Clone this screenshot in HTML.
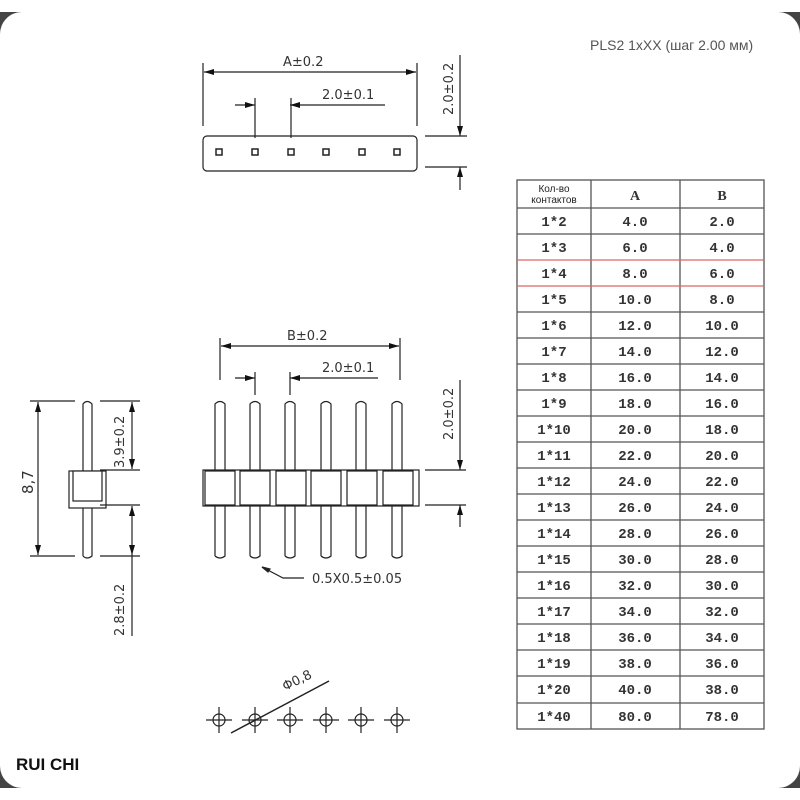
<!DOCTYPE html>
<html><head><meta charset="utf-8"><style>
html,body{margin:0;padding:0;background:#fff;width:800px;height:800px;overflow:hidden;font-family:"Liberation Sans",sans-serif}
</style></head><body>
<svg width="800" height="800" viewBox="0 0 800 800" xmlns="http://www.w3.org/2000/svg">
<defs>
<marker id="a" viewBox="0 0 10 6" refX="10" refY="3" markerWidth="10" markerHeight="6" orient="auto-start-reverse" markerUnits="userSpaceOnUse"><path d="M0,0L10,3L0,6z" fill="#111"/></marker>
</defs>
<rect x="0" y="12" width="800" height="776" fill="#444"/>
<rect x="0" y="12" width="800" height="776" rx="22" fill="#fff"/>
<text x="590" y="50" font-size="14" fill="#555" font-family="Liberation Sans, DejaVu Sans, sans-serif">PLS2 1xXX (шаг 2.00 мм)</text>
<text x="16" y="770" font-size="17" font-weight="bold" fill="#111">RUI CHI</text>

<g stroke="#222" stroke-width="1.2" fill="none">
<!-- top view -->
<rect x="203" y="136" width="214" height="35" rx="4"/>
<line x1="203" y1="63" x2="203" y2="126"/><line x1="417" y1="63" x2="417" y2="126"/>
<line x1="204" y1="72" x2="416" y2="72" marker-start="url(#a)" marker-end="url(#a)"/>
<line x1="235" y1="105" x2="255" y2="105" marker-end="url(#a)"/>
<line x1="290" y1="105" x2="385" y2="105" marker-start="url(#a)"/>
<line x1="255" y1="98" x2="255" y2="138"/><line x1="291" y1="98" x2="291" y2="138"/>
<line x1="460" y1="55" x2="460" y2="136" marker-end="url(#a)"/>
<line x1="460" y1="167" x2="460" y2="190" marker-start="url(#a)"/>
<line x1="425" y1="136" x2="467" y2="136"/><line x1="425" y1="167" x2="467" y2="167"/>
<g stroke-width="1.5">
<rect x="216" y="149" width="6" height="6"/><rect x="252" y="149" width="6" height="6"/><rect x="288" y="149" width="6" height="6"/><rect x="323" y="149" width="6" height="6"/><rect x="359" y="149" width="6" height="6"/><rect x="394" y="149" width="6" height="6"/>
</g>

<!-- side view -->
<path d="M83,556 V404 Q87,399 92,404 V556 Q87,560 83,556"/>
<rect x="69" y="471" width="37" height="37" fill="#fff"/>
<rect x="73" y="471" width="29" height="30" fill="#fff"/>
<line x1="30" y1="401" x2="75" y2="401"/><line x1="30" y1="556" x2="75" y2="556"/>
<line x1="38" y1="402" x2="38" y2="555" marker-start="url(#a)" marker-end="url(#a)"/>
<line x1="100" y1="401" x2="140" y2="401"/><line x1="100" y1="470" x2="140" y2="470"/>
<line x1="100" y1="505" x2="140" y2="505"/><line x1="100" y1="556" x2="140" y2="556"/>
<line x1="132" y1="402" x2="132" y2="469" marker-start="url(#a)" marker-end="url(#a)"/>
<line x1="132" y1="506" x2="132" y2="555" marker-start="url(#a)" marker-end="url(#a)"/>
<line x1="132" y1="555" x2="132" y2="636"/>

<!-- front view -->
<line x1="220" y1="338" x2="220" y2="380"/><line x1="400" y1="338" x2="400" y2="380"/>
<line x1="221" y1="346" x2="399" y2="346" marker-start="url(#a)" marker-end="url(#a)"/>
<line x1="235" y1="378" x2="255" y2="378" marker-end="url(#a)"/>
<line x1="290" y1="378" x2="378" y2="378" marker-start="url(#a)"/>
<line x1="255" y1="372" x2="255" y2="395"/><line x1="290" y1="372" x2="290" y2="395"/>
<line x1="460" y1="380" x2="460" y2="470" marker-end="url(#a)"/>
<line x1="460" y1="505" x2="460" y2="527" marker-start="url(#a)"/>
<line x1="425" y1="470" x2="466" y2="470"/><line x1="425" y1="505" x2="466" y2="505"/>
<g id="pins">
<path d="M215,556 V404 Q220,399 225,404 V556 Q220,560 215,556"/>
<path d="M250,556 V404 Q255,399 260,404 V556 Q255,560 250,556"/>
<path d="M285,556 V404 Q290,399 295,404 V556 Q290,560 285,556"/>
<path d="M321,556 V404 Q326,399 331,404 V556 Q326,560 321,556"/>
<path d="M356,556 V404 Q361,399 366,404 V556 Q361,560 356,556"/>
<path d="M392,556 V404 Q397,399 402,404 V556 Q397,560 392,556"/>
</g>
<g fill="#fff">
<rect x="203" y="470" width="216" height="36"/>
<rect x="205" y="471" width="30" height="34"/><rect x="240" y="471" width="30" height="34"/><rect x="276" y="471" width="30" height="34"/><rect x="311" y="471" width="30" height="34"/><rect x="347" y="471" width="30" height="34"/><rect x="383" y="471" width="30" height="34"/>
</g>
<polyline points="262,567 283,578 304,578"/>
<path d="M262,567l8,2l-2,3z" fill="#222"/>

<!-- bottom view -->
<g>
<circle cx="219" cy="720" r="6"/><line x1="206" y1="720" x2="232" y2="720"/><line x1="219" y1="707" x2="219" y2="733"/>
<circle cx="255" cy="720" r="6"/><line x1="242" y1="720" x2="268" y2="720"/><line x1="255" y1="707" x2="255" y2="733"/>
<circle cx="290" cy="720" r="6"/><line x1="277" y1="720" x2="303" y2="720"/><line x1="290" y1="707" x2="290" y2="733"/>
<circle cx="326" cy="720" r="6"/><line x1="313" y1="720" x2="339" y2="720"/><line x1="326" y1="707" x2="326" y2="733"/>
<circle cx="361" cy="720" r="6"/><line x1="348" y1="720" x2="374" y2="720"/><line x1="361" y1="707" x2="361" y2="733"/>
<circle cx="397" cy="720" r="6"/><line x1="384" y1="720" x2="410" y2="720"/><line x1="397" y1="707" x2="397" y2="733"/>
<line x1="231" y1="733" x2="329" y2="681" stroke-width="1.5"/>
</g>
</g>

<g font-size="13" fill="#333" font-family="DejaVu Sans, Liberation Sans, sans-serif">
<text x="283" y="66">A±0.2</text>
<text x="322" y="99">2.0±0.1</text>
<text transform="translate(453,115) rotate(-90)">2.0±0.2</text>
<text x="287" y="340">B±0.2</text>
<text x="322" y="372">2.0±0.1</text>
<text transform="translate(453,440) rotate(-90)">2.0±0.2</text>
<text transform="translate(124,468) rotate(-90)">3.9±0.2</text>
<text transform="translate(124,636) rotate(-90)">2.8±0.2</text>
<text transform="translate(33,494) rotate(-90)" font-size="15">8,7</text>
<text x="312" y="583">0.5X0.5±0.05</text>
<text transform="translate(285,691) rotate(-26)">Φ0,8</text>
</g>

<!-- table -->
<g stroke="#555" stroke-width="1.3">
<rect x="517" y="180" width="247" height="549" fill="none"/>
<line x1="591" y1="180" x2="591" y2="729"/><line x1="680" y1="180" x2="680" y2="729"/>
<line x1="517" y1="208" x2="764" y2="208"/><line x1="517" y1="234" x2="764" y2="234"/>
<line x1="517" y1="312" x2="764" y2="312"/><line x1="517" y1="338" x2="764" y2="338"/><line x1="517" y1="364" x2="764" y2="364"/><line x1="517" y1="390" x2="764" y2="390"/><line x1="517" y1="416" x2="764" y2="416"/><line x1="517" y1="442" x2="764" y2="442"/><line x1="517" y1="468" x2="764" y2="468"/><line x1="517" y1="494" x2="764" y2="494"/><line x1="517" y1="520" x2="764" y2="520"/><line x1="517" y1="546" x2="764" y2="546"/><line x1="517" y1="572" x2="764" y2="572"/><line x1="517" y1="598" x2="764" y2="598"/><line x1="517" y1="624" x2="764" y2="624"/><line x1="517" y1="650" x2="764" y2="650"/><line x1="517" y1="676" x2="764" y2="676"/><line x1="517" y1="703" x2="764" y2="703"/>
</g>
<line x1="517" y1="260" x2="764" y2="260" stroke="#d66" stroke-width="1.3"/>
<line x1="517" y1="286" x2="764" y2="286" stroke="#d66" stroke-width="1.3"/>
<text x="554" y="192" font-size="10" text-anchor="middle" fill="#222" font-family="Liberation Sans, DejaVu Sans, sans-serif">Кол-во</text>
<text x="554" y="203" font-size="10" text-anchor="middle" fill="#222" font-family="Liberation Sans, DejaVu Sans, sans-serif">контактов</text>
<g font-size="14" font-weight="bold" fill="#333" text-anchor="middle" font-family="Liberation Serif, DejaVu Serif, serif">
<text x="635" y="200">A</text><text x="722" y="200">B</text>
</g>
<g font-size="14" font-weight="bold" fill="#333" text-anchor="middle" font-family="Liberation Mono, DejaVu Sans Mono, monospace">
<text x="554" y="226">1*2</text><text x="635" y="226">4.0</text><text x="722" y="226">2.0</text>
<text x="554" y="252">1*3</text><text x="635" y="252">6.0</text><text x="722" y="252">4.0</text>
<text x="554" y="278">1*4</text><text x="635" y="278">8.0</text><text x="722" y="278">6.0</text>
<text x="554" y="304">1*5</text><text x="635" y="304">10.0</text><text x="722" y="304">8.0</text>
<text x="554" y="330">1*6</text><text x="635" y="330">12.0</text><text x="722" y="330">10.0</text>
<text x="554" y="356">1*7</text><text x="635" y="356">14.0</text><text x="722" y="356">12.0</text>
<text x="554" y="382">1*8</text><text x="635" y="382">16.0</text><text x="722" y="382">14.0</text>
<text x="554" y="408">1*9</text><text x="635" y="408">18.0</text><text x="722" y="408">16.0</text>
<text x="554" y="434">1*10</text><text x="635" y="434">20.0</text><text x="722" y="434">18.0</text>
<text x="554" y="460">1*11</text><text x="635" y="460">22.0</text><text x="722" y="460">20.0</text>
<text x="554" y="486">1*12</text><text x="635" y="486">24.0</text><text x="722" y="486">22.0</text>
<text x="554" y="512">1*13</text><text x="635" y="512">26.0</text><text x="722" y="512">24.0</text>
<text x="554" y="538">1*14</text><text x="635" y="538">28.0</text><text x="722" y="538">26.0</text>
<text x="554" y="564">1*15</text><text x="635" y="564">30.0</text><text x="722" y="564">28.0</text>
<text x="554" y="590">1*16</text><text x="635" y="590">32.0</text><text x="722" y="590">30.0</text>
<text x="554" y="616">1*17</text><text x="635" y="616">34.0</text><text x="722" y="616">32.0</text>
<text x="554" y="642">1*18</text><text x="635" y="642">36.0</text><text x="722" y="642">34.0</text>
<text x="554" y="668">1*19</text><text x="635" y="668">38.0</text><text x="722" y="668">36.0</text>
<text x="554" y="694">1*20</text><text x="635" y="694">40.0</text><text x="722" y="694">38.0</text>
<text x="554" y="721">1*40</text><text x="635" y="721">80.0</text><text x="722" y="721">78.0</text>
</g>
</svg>
</body></html>
